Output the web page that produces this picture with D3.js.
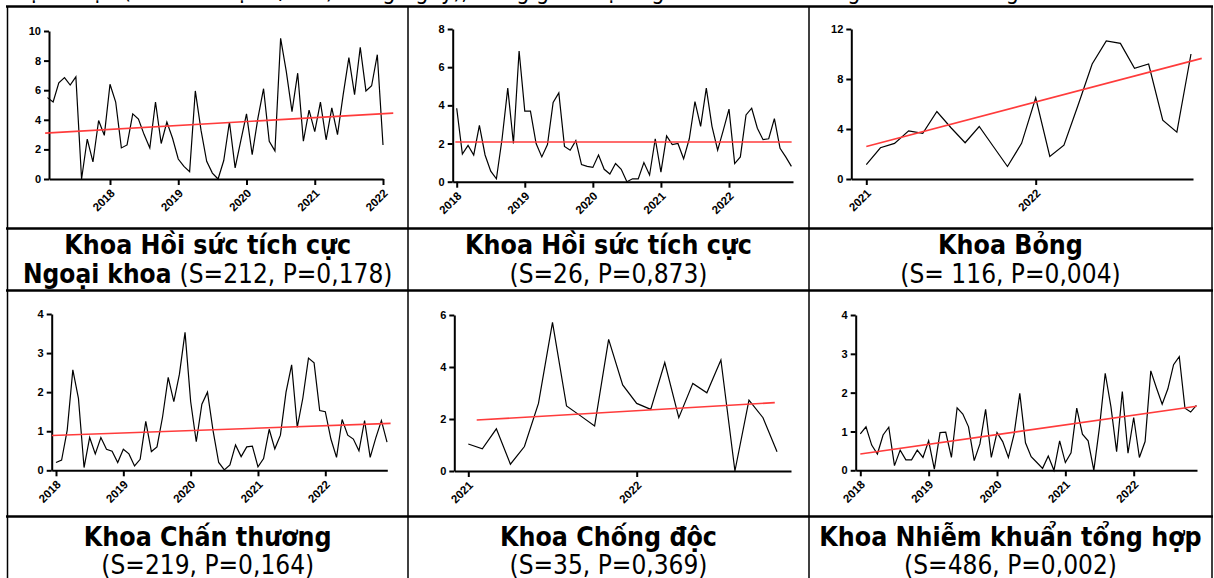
<!DOCTYPE html>
<html>
<head>
<meta charset="utf-8">
<style>
  body { margin: 0; background: #fff; }
  svg { display: block; }
</style>
</head>
<body>
<script src="https://cdn.jsdelivr.net/npm/d3@7"></script>
<script>
// monthly rates for each ward
var icuSurgery = [5.5,5.2,6.5,6.85,6.35,6.9,0,2.7,1.15,3.95,2.95,6.4,5.2,2.1,2.3,4.4,4.05,3.0,2.1,5.2,2.4,3.85,2.75,1.35,0.85,0.5,5.95,3.3,1.2,0.4,0,1.25,3.85,0.75,2.6,4.4,1.65,4.1,6.1,2.55,1.9,9.5,7.25,4.55,7.15,2.55,4.65,3.2,5.2,2.65,4.8,3.0,5.7,8.2,5.7,8.9,5.95,6.3,8.4,2.3];
var icu = [3.85,1.45,1.9,1.4,2.95,1.4,0.55,0.15,2.25,4.9,2.0,6.85,3.7,3.7,2.0,1.3,1.95,4.15,4.65,1.85,1.65,2.15,0.9,0.8,0.75,1.4,0.65,0.4,0.95,0.65,0,0.15,0.15,1.0,0.35,2.25,0.5,2.4,1.95,2.0,1.2,2.25,4.2,2.9,4.9,2.9,1.65,2.7,3.8,0.95,1.3,3.5,3.85,2.8,2.2,2.25,3.3,1.75,1.3,0.8];
var burns = [1.15,2.5,2.85,3.85,3.65,5.4,4.1,2.9,4.2,2.6,1.0,2.85,6.5,1.8,2.7,5.9,9.2,11.05,10.85,8.85,9.2,4.7,3.75,10.0];
var trauma = [0.2,0.26,1.03,2.57,1.84,0.07,0.84,0.42,0.84,0.54,0.49,0.2,0.54,0.42,0.11,0.28,1.25,0.48,0.6,1.37,2.38,1.76,2.46,3.53,1.76,0.73,1.69,2.0,1.01,0.2,0.01,0.14,0.65,0.35,0.6,0.62,0.09,0.3,1.05,0.55,0.9,2.0,2.7,1.1,1.85,2.87,2.75,1.53,1.5,0.8,0.33,1.3,0.9,0.8,0.5,1.27,0.33,0.83,1.27,0.72];
var poison = [1.04,0.85,1.62,0.26,0.94,2.6,5.72,2.5,2.12,1.73,5.06,3.31,2.6,2.37,4.17,2.05,3.37,3.01,4.27,0,2.73,2.05,0.74];
var infection = [0.94,1.12,0.65,0.42,0.91,1.11,0.12,0.52,0.27,0.27,0.52,0.33,0.76,0.03,0.97,0.98,0.33,1.61,1.45,1.12,0.25,0.68,1.57,0.33,0.97,0.74,0.33,0.93,1.98,0.71,0.35,0.2,0.05,0.37,0,0.76,0.2,0.45,1.6,0.93,0.76,0,1.12,2.5,1.64,0.48,2.03,0.44,1.36,0.33,0.74,2.56,2.12,1.7,2.1,2.72,2.93,1.6,1.5,1.67];

var series = [icuSurgery, icu, burns, trauma, poison, infection];
var firstMonth = [2017 + 1/12, 2018, 2021, 2018, 2021, 2018];   // decimal year of first point
var yTicks = [[0,2,4,6,8,10], [0,2,4,6,8], [0,4,8,12], [0,1,2,3,4], [0,2,4,6], [0,1,2,3,4]];
var xTicks = [[2018,2019,2020,2021,2022], [2018,2019,2020,2021,2022], [2021,2022],
              [2018,2019,2020,2021,2022], [2021,2022], [2018,2019,2020,2021,2022]];
// regression lines (start/end in decimal years, values)
var trendX = [[2017.05, 2022.15], [2017.98, 2022.92], [2021.0, 2022.98], [2017.94, 2022.97], [2021.05, 2022.82], [2018.0, 2022.92]];
var trendY = [[3.1, 4.45], [2.08, 2.08], [2.6, 9.65], [0.89, 1.2], [1.96, 2.63], [0.42, 1.65]];

var wardNames = ["Khoa Hồi sức tích cực", "Khoa Hồi sức tích cực", "Khoa Bỏng",
                 "Khoa Chấn thương", "Khoa Chống độc", "Khoa Nhiễm khuẩn tổng hợp"];
var wardSuffix = ["Ngoại khoa", "", "", "", "", ""];
var statLabels = ["(S=212, P=0,178)", "(S=26, P=0,873)", "(S= 116, P=0,004)",
                  "(S=219, P=0,164)", "(S=35, P=0,369)", "(S=486, P=0,002)"];
var heading = "bệnh viện (trên mỗi sự cố/100) trong ngày), trong giai đoạn nghiên cứu theo từng khoa lâm sàng";

var W = 1214, H = 578;
var svg = d3.select("body").append("svg").attr("width", W).attr("height", H);

// pixel frames of each plot: y axis x, x axis end, zero line, top tick, year calibration
var frames = [
  {ax: 49,    aEnd: 383,  y0: 179,   yTop: 31,  t0: 2018, t1: 2022, x0: 110,   x1: 383},
  {ax: 452.7, aEnd: 793,  y0: 181.7, yTop: 29,  t0: 2018, t1: 2022, x0: 456.7, x1: 729},
  {ax: 851.3, aEnd: 1193, y0: 179,   yTop: 29,  t0: 2021, t1: 2022, x0: 866.3, x1: 1035.7},
  {ax: 51.7,  aEnd: 387.3, y0: 470.3, yTop: 314, t0: 2018, t1: 2022, x0: 56,    x1: 325.3},
  {ax: 454.3, aEnd: 791,  y0: 471,   yTop: 315, t0: 2021, t1: 2022, x0: 468.3, x1: 636.7},
  {ax: 855.7, aEnd: 1197, y0: 470.3, yTop: 315, t0: 2018, t1: 2022, x0: 860.3, x1: 1133.7}
];

// heading line, mostly cut off by the window top
svg.append("text").attr("x", 14).attr("y", -1.5)
  .style("font-family", "'DejaVu Sans Condensed', 'DejaVu Sans', sans-serif")
  .style("font-size", "23px").text(heading);

frames.forEach(function (f, i) {
  var x = d3.scaleLinear().domain([f.t0, f.t1]).range([f.x0, f.x1]);
  x.domain([x.invert(f.ax), x.invert(f.aEnd)]).range([f.ax, f.aEnd]);
  var ticks = yTicks[i];
  var y = d3.scaleLinear().domain([0, ticks[ticks.length - 1]]).range([f.y0, f.yTop]);
  var g = svg.append("g");

  var yAxis = g.append("g").attr("transform", "translate(" + f.ax + ",0)")
    .call(d3.axisLeft(y).tickValues(ticks).tickSize(5).tickSizeOuter(0).tickPadding(3).tickFormat(d3.format("d")));
  var xAxis = g.append("g").attr("transform", "translate(0," + f.y0 + ")")
    .call(d3.axisBottom(x).tickValues(xTicks[i]).tickSize(6).tickSizeOuter(0).tickFormat(d3.format("d")));

  [yAxis, xAxis].forEach(function (a) {
    a.select(".domain").attr("stroke", "#000").attr("stroke-width", 2);
    a.selectAll(".tick line").attr("stroke", "#000").attr("stroke-width", 2);
    a.selectAll("text").attr("fill", "#000")
      .style("font-family", "'Liberation Sans', Arial, sans-serif")
      .style("font-weight", "bold").style("font-size", "11px");
  });
  xAxis.selectAll(".tick text")
    .style("font-size", "11.5px")
    .attr("x", 0).attr("y", 0).attr("dy", 0)
    .attr("text-anchor", "end")
    .attr("transform", "translate(5,15) rotate(-45)");

  var data = series[i].map(function (v, k) { return {t: firstMonth[i] + k / 12, v: v}; });
  g.append("path").datum(data)
    .attr("fill", "none").attr("stroke", "#000").attr("stroke-width", 1.2)
    .attr("d", d3.line().x(function (d) { return x(d.t); }).y(function (d) { return y(d.v); }));

  g.append("line")
    .attr("x1", x(trendX[i][0])).attr("y1", y(trendY[i][0]))
    .attr("x2", x(trendX[i][1])).attr("y2", y(trendY[i][1]))
    .attr("stroke", "#ff3b3b").attr("stroke-width", 1.6);
});

// table grid
var colX = [7.5, 408, 809, 1212];
var rowY = [6.5, 228.5, 290.5, 516.5];
rowY.forEach(function (yy) {
  svg.append("line").attr("x1", 6).attr("x2", 1213).attr("y1", yy).attr("y2", yy)
    .attr("stroke", "#000").attr("stroke-width", 2.5);
});
colX.forEach(function (xx) {
  svg.append("line").attr("x1", xx).attr("x2", xx).attr("y1", 6).attr("y2", H)
    .attr("stroke", "#000").attr("stroke-width", 1.5);
});

// captions
var capFont = "'DejaVu Sans Condensed', 'DejaVu Sans', sans-serif";
var baselines = [[254, 283], [546, 574]];
wardNames.forEach(function (name, i) {
  var col = i % 3, row = Math.floor(i / 3);
  var cx = (colX[col] + colX[col + 1]) / 2;
  svg.append("text").attr("x", cx).attr("y", baselines[row][0]).attr("text-anchor", "middle")
    .style("font-family", capFont).style("font-size", "26.5px").style("font-weight", "bold")
    .text(name);
  var t2 = svg.append("text").attr("x", cx).attr("y", baselines[row][1]).attr("text-anchor", "middle")
    .style("font-family", capFont).style("font-size", "26px");
  if (wardSuffix[i]) t2.append("tspan").style("font-weight", "bold").text(wardSuffix[i] + " ");
  t2.append("tspan").text(statLabels[i]);
});
</script>
</body>
</html>
